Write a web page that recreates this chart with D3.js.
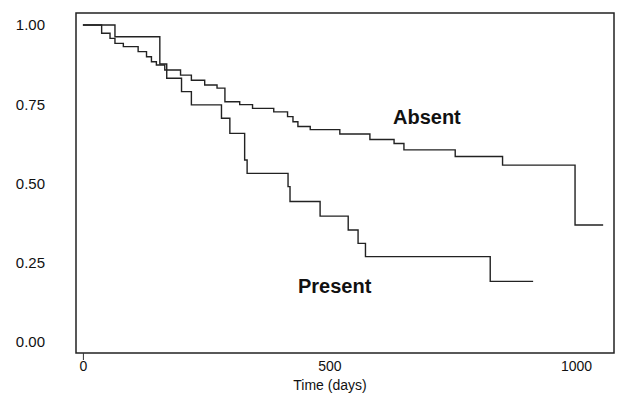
<!DOCTYPE html>
<html>
<head>
<meta charset="utf-8">
<script src="https://cdn.jsdelivr.net/npm/d3@7"></script>
<style>
  body { margin: 0; background: #fff; }
  text { font-family: Arial, "Liberation Sans", sans-serif; fill: #111; }
</style>
</head>
<body>
<div id="chart"></div>
<script>
// Kaplan-Meier curves
var presentDays = [0, 65, 156, 170, 200, 220, 281, 298, 328, 333, 416, 420, 481, 538, 558, 573, 826, 913];
var presentSurv = [1.0, 0.963, 0.877, 0.832, 0.790, 0.748, 0.706, 0.658, 0.574, 0.532, 0.490, 0.443, 0.397, 0.353, 0.311, 0.269, 0.191, 0.191];

var absentDays = [0, 38, 55, 65, 82, 112, 129, 139, 149, 166, 198, 220, 247, 272, 288, 318, 344, 387, 415, 426, 436, 461, 521, 582, 631, 651, 755, 851, 998, 1055];
var absentSurv = [1.0, 0.974, 0.958, 0.942, 0.932, 0.916, 0.900, 0.884, 0.874, 0.858, 0.842, 0.826, 0.811, 0.801, 0.758, 0.749, 0.737, 0.726, 0.711, 0.695, 0.680, 0.670, 0.656, 0.639, 0.626, 0.606, 0.585, 0.558, 0.369, 0.369];

var yTicks = [0, 0.25, 0.5, 0.75, 1];
var xTicks = [0, 500, 1000];

var width = 617;
var height = 395;

// plot frame
var frame = { left: 76, right: 614, top: 13, bottom: 353 };

var svg = d3.select("#chart")
    .append("svg")
    .attr("width", width)
    .attr("height", height);

var x = d3.scaleLinear()
    .domain([-14, 1077])
    .range([frame.left, frame.right]);

var y = d3.scaleLinear()
    .domain([-0.035, 1.038])
    .range([frame.bottom, frame.top]);

// frame box
svg.append("rect")
    .attr("x", frame.left)
    .attr("y", frame.top)
    .attr("width", frame.right - frame.left)
    .attr("height", frame.bottom - frame.top)
    .attr("fill", "none")
    .attr("stroke", "#222")
    .attr("stroke-width", 1.5);

// eje Y
var yAxis = svg.append("g")
    .attr("transform", "translate(" + frame.left + ",0)")
    .call(d3.axisLeft(y).tickValues(yTicks).tickSize(0).tickPadding(31).tickFormat(d3.format(".2f")));
yAxis.select(".domain").remove();
yAxis.selectAll("text")
    .style("font-size", "15px")
    .style("font-family", "Arial, 'Liberation Sans', sans-serif")
    .attr("fill", "#111");

// eje X
var xAxis = svg.append("g")
    .attr("transform", "translate(0," + frame.bottom + ")")
    .call(d3.axisBottom(x).tickValues(xTicks).tickSize(7).tickPadding(1).tickFormat(d3.format("d")));
xAxis.select(".domain").remove();
xAxis.selectAll(".tick line")
    .attr("stroke", "#333")
    .style("opacity", function(d) { return d === 0 ? 1 : 0; });
xAxis.selectAll("text")
    .style("font-size", "14px")
    .style("font-family", "Arial, 'Liberation Sans', sans-serif")
    .attr("fill", "#111");

svg.append("text")
    .attr("x", 330)
    .attr("y", 390)
    .attr("text-anchor", "middle")
    .style("font-size", "14px")
    .text("Time (days)");

// step lines
var line = d3.line()
    .x(function(d) { return x(d[0]); })
    .y(function(d) { return y(d[1]); })
    .curve(d3.curveStepAfter);

var absent = d3.zip(absentDays, absentSurv);
var present = d3.zip(presentDays, presentSurv);

svg.append("path")
    .datum(absent)
    .attr("fill", "none")
    .attr("stroke", "#222")
    .attr("stroke-width", 1.4)
    .attr("d", line);

svg.append("path")
    .datum(present)
    .attr("fill", "none")
    .attr("stroke", "#222")
    .attr("stroke-width", 1.4)
    .attr("d", line);

// labels
svg.append("text")
    .attr("x", 393)
    .attr("y", 124)
    .style("font-size", "20px")
    .style("font-weight", "bold")
    .text("Absent");

svg.append("text")
    .attr("x", 298)
    .attr("y", 293)
    .style("font-size", "20px")
    .style("font-weight", "bold")
    .text("Present");
</script>
</body>
</html>
